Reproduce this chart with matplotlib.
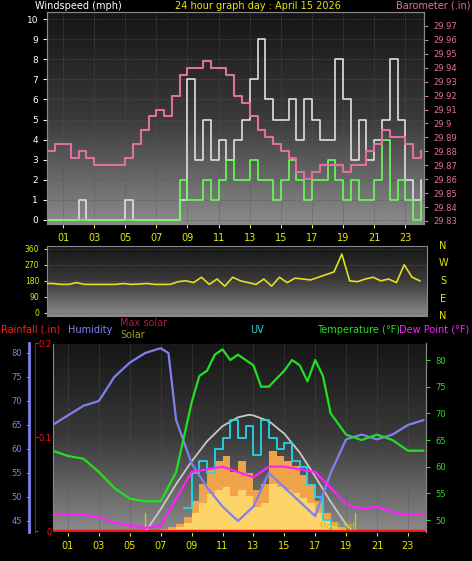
import numpy as np
import matplotlib
matplotlib.use("Agg")
import matplotlib.pyplot as plt
from matplotlib.colors import LinearSegmentedColormap

# ---------------- data ----------------
hh = [i * 0.5 for i in range(49)]  # half-hourly 0..24
gust = [0,0,0,0,1,0,0,0,0,0,1,0,0,0,0,0,0,1,7,3,5,3,4,3,4,5,7,9,6,5,5,6,4,6,5,4,4,8,6,3,5,3,4,5,8,5,2,1,2]
wind = [0,0,0,0,0,0,0,0,0,0,0,0,0,0,0,0,0,2,1,1,2,1,2,3,2,2,3,2,2,1,2,3,2,1,2,2,3,2,1,2,1,1,2,4,1,2,1,0,1]
baro = [29.88,29.885,29.885,29.875,29.88,29.875,29.87,29.87,29.87,29.87,29.875,29.885,29.895,29.905,29.91,29.905,
        29.92,29.935,29.94,29.94,29.945,29.94,29.94,29.935,29.92,29.915,29.905,29.895,29.89,29.885,29.88,29.875,
        29.865,29.86,29.865,29.87,29.87,29.87,29.865,29.87,29.87,29.88,29.885,29.895,29.89,29.89,29.885,29.875,29.88]
wdir = [165,165,160,160,170,160,160,160,160,160,165,160,162,165,160,160,160,175,180,170,200,160,190,150,200,180,
        170,160,190,150,200,170,195,190,185,200,215,230,330,180,175,190,200,180,190,170,270,200,180]

hours1 = [0,1,2,3,4,5,6,7,7.5,8,9,10,11,12,13,14,15,16,17,18,19,20,21,22,23,24]
humidity = [65,67,69,70,75,78,80,81,80,66,57,52,48,45,48,55,52,49,46,55,62,63,62,63,65,66]

hours_t = [0,1,2,3,4,5,6,7,8,9,9.5,10,10.5,11,11.5,12,13,13.5,14,15,15.5,16,16.5,17,17.5,18,19,20,21,22,23,24]
temperature = [63,62,61.5,59,56,54,53.5,53.5,59,72,77,78,81,82,80,81,79,75,75,78,80,79,76,80,77,70,66,65,66,65,63,63]
hours_d = [0,2,3,4,5,6,7,8,9,10,11,12,13,14,15,16,17,18,19,20,21,22,23,24]
dewpoint = [51,51,50.5,49.5,49,48.5,49,54,59,59.5,60,59,58,60,60,59.5,59,56,53,52,52.5,51.5,51,51]

hours_s = [6 + 0.5 * i for i in range(28)]
solar = [0,5,20,40,60,120,250,380,500,560,600,480,560,470,330,380,640,600,560,520,450,380,250,150,80,40,15,0]
hours_m = [6,7,8,9,10,11,12,12.7,13,14,15,16,17,18,19,19.5]
maxsolar = [0,180,380,560,720,840,910,930,925,880,780,630,440,240,60,0]
hours_uv = [8.5,9,9.5,10,10.5,11,11.5,12,12.5,13,13.5,14,14.5,15,15.5,16,16.5,17,17.5,18]
uv = [2,5,6,5,7,8,9.5,8,9,6.5,9.5,8,7,7.5,6,5.5,4,3,1,0]
hours_r = [0, 24]
rain = [0, 0]

xt_labels = ["01","03","05","07","09","11","13","15","17","19","21","23"]
xt = [1,3,5,7,9,11,13,15,17,19,21,23]

W, H = 472, 561
fig = plt.figure(figsize=(W/100, H/100), dpi=100, facecolor="black")

def rect(x0, y0, x1, y1):
    return [x0/W, 1-y1/H, (x1-x0)/W, (y1-y0)/H]

grad = LinearSegmentedColormap.from_list("g", ["#161616", "#3a3a3a", "#8a8a8a"])
def bg(ax):
    ax.imshow(np.linspace(0, 1, 100).reshape(-1, 1), aspect="auto", cmap=grad,
              extent=[0, 1, 0, 1], transform=ax.transAxes, zorder=0)
    for s in ax.spines.values():
        s.set_color("#888888")

Y = "#e8e800"
FS = 7
# ------------- top panel -------------
ax1 = fig.add_axes(rect(47, 12, 424, 224))
bg(ax1)
ax1.set_xlim(-0.03, 24.2)
ax1.set_ylim(-0.2, 10.35)
ax1.step(hh, gust, where="post", color="#e0e0e0", lw=1.2, zorder=3)
ax1.step(hh, wind, where="post", color="#66ff55", lw=1.2, zorder=4)
ax1.set_yticks(range(0, 11))
ax1.tick_params(axis="y", colors="white", labelsize=6.5, length=3)
ax1.set_xticks(xt)
ax1.set_xticklabels(xt_labels)
ax1.tick_params(axis="x", colors=Y, labelsize=7, length=3)
ax1.grid(True, color="#555555", ls=":", lw=0.6)
ax1b = ax1.twinx()
ax1b.set_ylim(29.8278, 29.98)
ax1b.step(hh, baro, where="post", color="#e070a0", lw=1.5, zorder=5)
ax1b.set_yticks([29.83,29.84,29.85,29.86,29.87,29.88,29.89,29.9,29.91,29.92,29.93,29.94,29.95,29.96,29.97])
ax1b.set_yticklabels(["29.83","29.84","29.85","29.86","29.87","29.88","29.89","29.9","29.91","29.92",
                      "29.93","29.94","29.95","29.96","29.97"])
ax1b.tick_params(axis="y", colors="#e070a0", labelsize=6, length=3)
for s in ax1b.spines.values():
    s.set_color("#888888")
fig.text(35/W, 1-6/H, "Windspeed (mph)", color="white", fontsize=FS, va="center")
fig.text(258/W, 1-6/H, "24 hour graph day : April 15 2026", color=Y, fontsize=FS, va="center", ha="center")
fig.text(470/W, 1-6/H, "Barometer (.in)", color="#e070a0", fontsize=FS, va="center", ha="right")

# ------------- middle panel -------------
ax2 = fig.add_axes(rect(47, 246, 427, 316))
bg(ax2)
ax2.set_xlim(0.1, 24.46)
ax2.set_ylim(-17, 375)
ax2.plot(hh, wdir, color="#e0e020", lw=1.2, zorder=3)
ax2.set_yticks([0, 90, 180, 270, 360])
ax2.tick_params(axis="y", colors=Y, labelsize=5.5, length=2)
ax2.set_xticks(xt)
ax2.tick_params(axis="x", labelbottom=False, length=0)
ax2.grid(True, axis="y", color="#555555", ls=":", lw=0.6)
for i, c in enumerate(["N", "W", "S", "E", "N"]):
    fig.text(443/W, 1-(246 + i*17.5)/H, c, color=Y, fontsize=FS, ha="center", va="center")

# ------------- bottom panel -------------
ax3 = fig.add_axes(rect(53, 343, 426, 532))
bg(ax3)
ax3.set_xlim(0.03, 24.17)
ax3.set_ylim(0, 1500)
ax3.set_yticks([])
ax3.fill_between(hours_s, solar, step="post", color="#f8a848", alpha=0.95, zorder=2, lw=0)
ax3.fill_between(hours_s, [v * 0.6 for v in solar], step="post", color="#ffe070", alpha=0.8, zorder=2, lw=0)
ax3.plot(hours_m, maxsolar, color="#c8c8c8", lw=1.3, zorder=3)
ax3.set_xticks(xt)
ax3.set_xticklabels(xt_labels)
ax3.tick_params(axis="x", colors=Y, labelsize=7, length=3)
ax3.grid(True, color="#555555", ls=":", lw=0.6)
ax3.axvline(6.0, color="#d0c020", lw=1, ymax=0.1, zorder=3)
ax3.axvline(19.6, color="#d0c020", lw=1, ymax=0.1, zorder=3)
fig.text(320/W, 1-531/H, "Moon Set", color="#d0c020", fontsize=5.5, va="bottom")

axuv = ax3.twinx()
axuv.set_ylim(0, 16)
axuv.step(hours_uv, uv, where="post", color="#20d8e8", lw=1.3, zorder=4)
axuv.axis("off")

axh = ax3.twinx()
axh.set_ylim(42.7, 82.08)
axh.plot(hours1, humidity, color="#8080f0", lw=1.6, zorder=5)
axh.yaxis.set_ticks_position("left")
axh.spines["left"].set_position(("outward", 17))
axh.spines["left"].set_color("#8080f0")
axh.spines["left"].set_linewidth(2)
axh.spines["right"].set_visible(False)
axh.set_yticks([45, 50, 55, 60, 65, 70, 75, 80])
axh.tick_params(axis="y", colors="#8080f0", labelsize=6, length=2)

axt = ax3.twinx()
axt.set_ylim(47.75, 83.19)
axt.plot(hours_t, temperature, color="#20e020", lw=1.6, zorder=6)
axt.plot(hours_d, dewpoint, color="#ff20ff", lw=1.6, zorder=6)
axt.set_yticks([50, 55, 60, 65, 70, 75, 80])
axt.tick_params(axis="y", colors="#20e020", labelsize=6, length=3)
for s in ["left", "top", "bottom"]:
    axt.spines[s].set_visible(False)
axt.spines["right"].set_color("#888888")

axr = ax3.twinx()
axr.set_ylim(-0.001, 0.2)
axr.plot(hours_r, rain, color="#ff1010", lw=2.5, zorder=7)
axr.yaxis.set_ticks_position("left")
axr.spines["left"].set_position(("outward", 13))
axr.spines["left"].set_color("#cc0000")
for s in ["right", "top", "bottom"]:
    axr.spines[s].set_visible(False)
axr.set_yticks([0, 0.1, 0.2])
axr.set_yticklabels(["0", "0.1", "0.2"])
axr.tick_params(axis="y", colors="#ff1010", labelsize=6, direction="in", pad=-12, length=2)

fig.text(1/W, 1-330/H, "Rainfall (.in)", color="#ff2020", fontsize=FS, va="center")
fig.text(68/W, 1-330/H, "Humidity", color="#8080f0", fontsize=FS, va="center")
fig.text(120/W, 1-323/H, "Max solar", color="#a02040", fontsize=FS, va="center")
fig.text(120/W, 1-335/H, "Solar", color="#a0a020", fontsize=FS, va="center")
fig.text(257/W, 1-330/H, "UV", color="#20d8e8", fontsize=FS, va="center", ha="center")
fig.text(317/W, 1-330/H, "Temperature (\u00b0F)", color="#20e020", fontsize=FS, va="center")
fig.text(399/W, 1-330/H, "Dew Point (\u00b0F)", color="#ff20ff", fontsize=FS, va="center")

fig.savefig("out.png", dpi=100, facecolor="black")
